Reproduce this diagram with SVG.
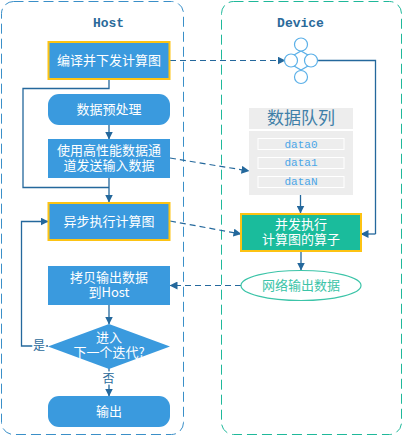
<svg xmlns="http://www.w3.org/2000/svg" width="404" height="436" viewBox="0 0 404 436">
<style>
text{font-family:"Noto Sans CJK SC","Liberation Sans",sans-serif;text-anchor:middle}
.l{font-size:13px;fill:#ffffff}
.m{font-family:"Liberation Mono","Noto Sans CJK SC",monospace}
.b{fill:#3a9ade}
.y{fill:#3a9ade;stroke:#fdc313;stroke-width:2}
.c{fill:none;stroke:#24689c;stroke-width:1.3}
.d{fill:none;stroke:#24689c;stroke-width:1.2;stroke-dasharray:6 4}
.o{fill:#ffffff;stroke:#5bb0e8;stroke-width:1.2}
.q{fill:#ededed}
.r{fill:#ededed;stroke:#ffffff;stroke-width:1}
.t{font-size:11px;fill:#4aa6e8}
</style>
<defs>
<marker id="a" viewBox="0 0 8 8" refX="7.5" refY="4" markerWidth="8" markerHeight="8" orient="auto" markerUnits="userSpaceOnUse"><path d="M0 0L8 4L0 8Z" fill="#24689c"/></marker>
</defs>
<rect id="host" x="1.500" y="1.500" width="182" height="433" rx="12" fill="#fff" stroke="#3a8fc8" stroke-width="1" stroke-dasharray="10 5"/>
<rect id="device" x="221.500" y="1.500" width="180" height="433" rx="12" fill="#fff" stroke="#1fb89a" stroke-width="1" stroke-dasharray="10 5"/>
<text x="108.500" y="27" class="m" font-size="13" font-weight="bold" fill="#2a6a9a">Host</text>
<text x="300.500" y="27" class="m" font-size="13" font-weight="bold" fill="#2a6a9a">Device</text>
<g id="connectors">
<path class="c" d="M109 79V88.500H23V187.500H109"/>
<path class="c" marker-end="url(#a)" d="M109 124V139"/>
<path class="c" marker-end="url(#a)" d="M109 178V202"/>
<path class="d" marker-end="url(#a)" d="M170 60.500H285"/>
<path class="d" marker-end="url(#a)" d="M170 158L249 171"/>
<path class="d" marker-end="url(#a)" d="M170 221L241 234"/>
<path class="c" d="M317 60.500H375.500V234"/>
<path class="c" marker-end="url(#a)" d="M375.500 234H361"/>
<path class="c" marker-end="url(#a)" d="M300.500 195V213"/>
<path class="c" marker-end="url(#a)" d="M301 251V270"/>
<path class="d" marker-end="url(#a)" d="M241 285.500H170"/>
<path class="c" marker-end="url(#a)" d="M109 305V324"/>
<path class="c" marker-end="url(#a)" d="M48 346H21.500V221.500H48"/>
<path class="c" marker-end="url(#a)" d="M109 368V396"/>
</g>
<g id="n1"><rect class="y" x="48.500" y="42" width="121" height="37"/><text class="l" x="109" y="65">编译并下发计算图</text></g>
<g id="n2"><rect class="b" x="48" y="94" width="122" height="31" rx="11"/><text class="l" x="109" y="114">数据预处理</text></g>
<g id="n3"><rect class="b" x="48" y="139" width="122" height="39"/><text class="l" x="109" y="155">使用高性能数据通<tspan x="109" dy="15">道发送输入数据</tspan></text></g>
<g id="n4"><rect class="y" x="48.500" y="203" width="121" height="37"/><text class="l" x="109" y="226">异步执行计算图</text></g>
<g id="n5"><rect class="b" x="48" y="266" width="122" height="39"/><text class="l" x="109" y="282">拷贝输出数据<tspan x="109" dy="15">到Host</tspan></text></g>
<g id="n6"><path class="b" d="M109 324L170 346.500L109 369L48 346.500Z"/><text class="l" x="109" y="342">进入<tspan x="109" dy="15">下一个迭代?</tspan></text></g>
<g id="n7"><rect class="b" x="48" y="396" width="122" height="31" rx="11"/><text class="l" x="109" y="416">输出</text></g>
<text x="39" y="350" font-size="12" fill="#2a6a9a" stroke="#fff" stroke-width="3" paint-order="stroke">是</text>
<text x="108.500" y="383" font-size="12" fill="#2a6a9a" stroke="#fff" stroke-width="3" paint-order="stroke">否</text>
<g id="graph">
<path class="o" d="M284.500 60.500L301 51L317.500 60.500L301 70Z" style="fill:none"/>
<circle class="o" cx="301" cy="44.500" r="6.500"/><circle class="o" cx="291" cy="60.500" r="6.500"/><circle class="o" cx="311" cy="60.500" r="6.500"/><circle class="o" cx="301" cy="77" r="6.500"/>
</g>
<g id="queue">
<rect class="q" x="249" y="108" width="104" height="21"/>
<text x="301" y="124" font-size="17" fill="#3f7fa8">数据队列</text>
<rect class="q" x="249" y="131" width="104" height="64"/>
<rect class="r" x="258" y="138.500" width="86" height="11"/><text class="t m" x="301" y="148">data0</text>
<rect class="r" x="258" y="157.500" width="86" height="11"/><text class="t m" x="301" y="166">data1</text>
<rect class="r" x="258" y="176.500" width="86" height="11"/><text class="t m" x="301" y="185">dataN</text>
</g>
<g id="n8"><rect x="241" y="214" width="120" height="37" fill="#1abc9c" stroke="#fdc313" stroke-width="2"/><text class="l" x="301" y="229">并发执行<tspan x="301" dy="15">计算图的算子</tspan></text></g>
<g id="n9"><ellipse cx="301" cy="285.500" rx="60" ry="15" fill="#fff" stroke="#3cc4a8" stroke-width="1.2"/><text x="301" y="290" font-size="13" fill="#3cc4a8">网络输出数据</text></g>
</svg>
